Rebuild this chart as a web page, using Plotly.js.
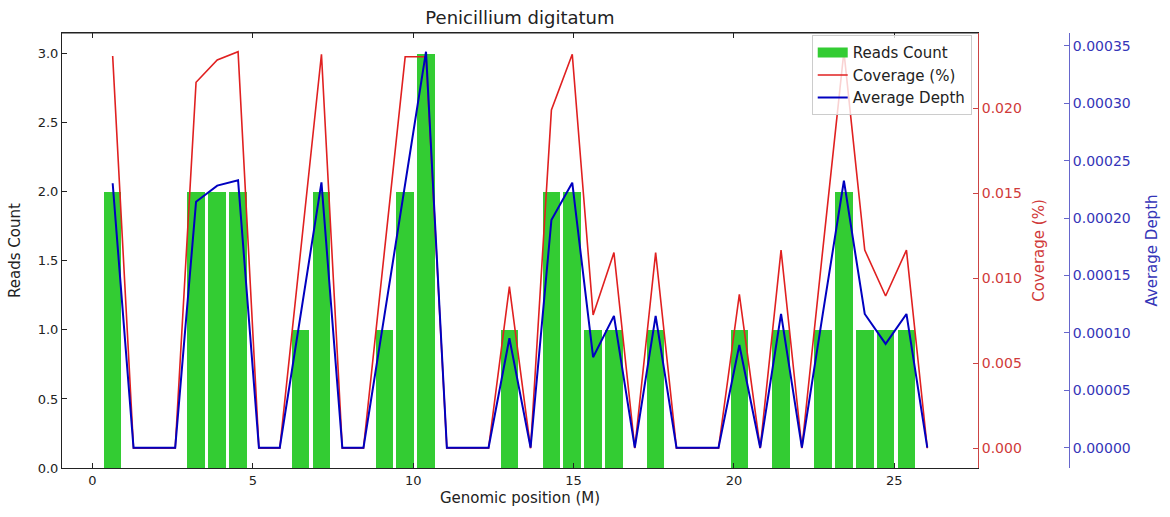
<!DOCTYPE html>
<html>
<head>
<meta charset="utf-8">
<script src="https://cdn.plot.ly/plotly-3.0.1.min.js"></script>
<style>
html, body { margin: 0; padding: 0; background: #fff; }
#chart { width: 1170px; height: 517px; }
</style>
</head>
<body>
<div id="chart"></div>
<script>
// bin centres, genomic position (M)
const positions = [0.63, 1.28, 1.93, 2.58, 3.23, 3.89, 4.54, 5.19, 5.84, 6.49,
  7.14, 7.79, 8.45, 9.10, 9.75, 10.40, 11.05, 11.70, 12.35, 13.00,
  13.66, 14.31, 14.96, 15.61, 16.26, 16.91, 17.56, 18.21, 18.87, 19.52,
  20.17, 20.82, 21.47, 22.12, 22.77, 23.43, 24.08, 24.73, 25.38, 26.03];

const readsCount = [2, 0, 0, 0, 2, 2, 2, 0, 0, 1,
  2, 0, 0, 1, 2, 3, 0, 0, 0, 1,
  0, 2, 2, 1, 1, 0, 1, 0, 0, 0,
  1, 0, 1, 0, 1, 2, 1, 1, 1, 0];

const coverage = [0.02308, 0, 0, 0, 0.02153, 0.02284, 0.02333, 0, 0, 0.01159,
  0.02318, 0, 0, 0.01152, 0.02303, 0.02303, 0, 0, 0, 0.00951,
  0, 0.0199, 0.02318, 0.00784, 0.01151, 0, 0.01151, 0, 0, 0,
  0.00906, 0, 0.01166, 0, 0.01166, 0.02333, 0.01166, 0.00896, 0.01166, 0];

const avgDepth = [0.0002304, 0, 0, 0, 0.0002143, 0.0002283, 0.000233, 0, 0, 0.0001156,
  0.0002312, 0, 0, 0.0001146, 0.0002305, 0.000345, 0, 0, 0, 0.0000953,
  0, 0.0001984, 0.0002309, 0.0000788, 0.0001148, 0, 0.0001148, 0, 0, 0,
  0.0000895, 0, 0.0001165, 0, 0.0001163, 0.0002326, 0.0001165, 0.0000904, 0.0001165, 0];

const font = "DejaVu Sans, sans-serif";
const green = "#33cc33", red = "#e02020", blue = "#0000c0";

const data = [
  {
    x: positions, y: readsCount, type: "bar", name: "Reads Count",
    width: 0.55, marker: {color: green, line: {width: 0}},
    showlegend: false, xaxis: "x", yaxis: "y"
  },
  // legend-only entry so the swatch is a wide bar like matplotlib's
  {
    x: [null], y: [null], type: "scatter", mode: "lines", name: "Reads Count",
    line: {color: green, width: 10}, legendgroup: "a",
    hoverinfo: "skip", xaxis: "x", yaxis: "y"
  },
  {
    x: positions, y: coverage, type: "scatter", mode: "lines", name: "Coverage (%)",
    line: {color: red, width: 1.6}, legendgroup: "b",
    xaxis: "x", yaxis: "y2"
  },
  {
    x: positions, y: avgDepth, type: "scatter", mode: "lines", name: "Average Depth",
    line: {color: blue, width: 2}, legendgroup: "c",
    xaxis: "x", yaxis: "y3"
  }
];

const layout = {
  width: 1170, height: 517,
  margin: {l: 62, r: 101, t: 33, b: 49},
  paper_bgcolor: "#fff", plot_bgcolor: "#fff",
  font: {family: font, size: 13, color: "#222"},
  showlegend: true,
  title: {text: "Penicillium digitatum", font: {size: 18, color: "#222"},
    x: 0.4444, xanchor: "center", y: 0.965, yanchor: "middle"},
  bargap: 0,
  xaxis: {
    domain: [0, 0.9096], range: [-0.95, 27.61],
    tickvals: [0, 5, 10, 15, 20, 25],
    ticks: "inside", ticklen: 5, tickcolor: "#222",
    showline: true, linecolor: "#222", linewidth: 1, mirror: "ticks",
    showgrid: false, zeroline: false,
    title: {text: "Genomic position (M)", font: {size: 15}, standoff: 5}
  },
  yaxis: {
    range: [0, 3.15], tickvals: [0, 0.5, 1, 1.5, 2, 2.5, 3], tickformat: ".1f",
    ticks: "inside", ticklen: 5, tickcolor: "#222",
    showline: true, linecolor: "#222", linewidth: 1,
    showgrid: false, zeroline: false,
    title: {text: "Reads Count", font: {size: 15}, standoff: 13}
  },
  yaxis2: {
    overlaying: "y", side: "right", anchor: "x",
    range: [-0.00116, 0.02443], tickvals: [0, 0.005, 0.01, 0.015, 0.02], tickformat: ".3f",
    ticks: "inside", ticklen: 5, tickcolor: "#cc4444",
    tickfont: {size: 14, color: "#d03a3a"},
    showline: true, linecolor: "#cc4444", linewidth: 1,
    showgrid: false, zeroline: false,
    title: {text: "Coverage (%)", font: {size: 15, color: "#d03a3a"}, standoff: 12}
  },
  yaxis3: {
    overlaying: "y", side: "right", anchor: "free", position: 1,
    range: [-0.0000177, 0.0003613],
    tickvals: [0, 0.00005, 0.0001, 0.00015, 0.0002, 0.00025, 0.0003, 0.00035], tickformat: ".5f",
    ticks: "inside", ticklen: 5, tickcolor: "#6666cc",
    tickfont: {size: 14, color: "#3535b8"},
    showline: true, linecolor: "#6666cc", linewidth: 1,
    showgrid: false, zeroline: false,
    title: {text: "Average Depth", font: {size: 15, color: "#3535b8"}, standoff: 16}
  },
  legend: {
    x: 0.9034, xanchor: "right", y: 0.995, yanchor: "top",
    bgcolor: "rgba(255,255,255,0.8)", bordercolor: "#cccccc", borderwidth: 1,
    font: {size: 15, color: "#222"}, traceorder: "grouped", tracegroupgap: 0
  },
  shapes: [
    {type: "line", xref: "paper", yref: "paper", x0: 0, x1: 0.9096, y0: 1, y1: 1,
      line: {color: "#222", width: 1}}
  ]
};

Plotly.newPlot("chart", data, layout, {displayModeBar: false});
</script>
</body>
</html>
